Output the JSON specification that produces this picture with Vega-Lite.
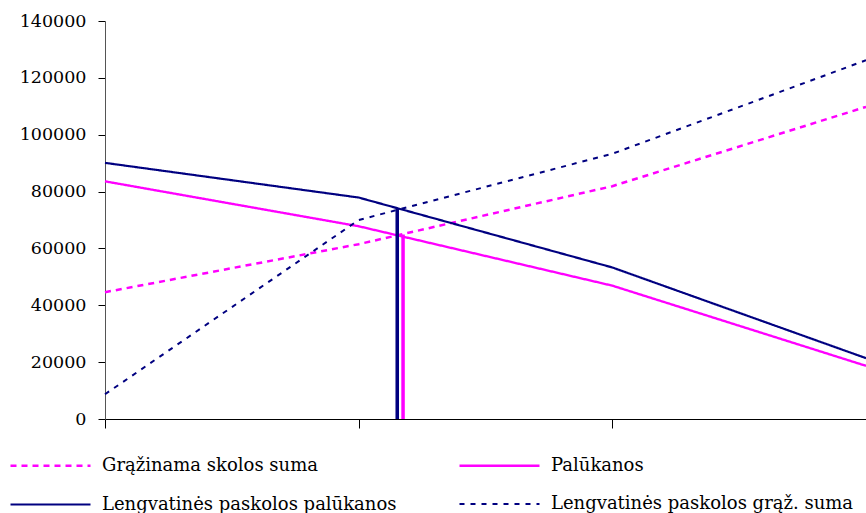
{
  "$schema": "https://vega.github.io/schema/vega-lite/v6.json",
  "autosize": "none",
  "padding": {"left": 105, "top": 21, "right": 0, "bottom": 94},
  "width": 761,
  "height": 398,
  "background": "white",
  "config": {
    "view": {"stroke": null},
    "font": "DejaVu Serif",
    "axis": {"grid": false, "domainColor": "black", "tickColor": "black", "labelFont": "DejaVu Serif", "labelColor": "black"},
    "legend": {"labelFont": "DejaVu Serif", "labelFontSize": 18, "labelColor": "black"}
  },
  "datasets": {
    "series": [
      {"x": 0, "value": 44600, "series": "Grąžinama skolos suma"},
      {"x": 1, "value": 61500, "series": "Grąžinama skolos suma"},
      {"x": 2, "value": 81900, "series": "Grąžinama skolos suma"},
      {"x": 3, "value": 109800, "series": "Grąžinama skolos suma"},
      {"x": 0, "value": 83600, "series": "Palūkanos"},
      {"x": 1, "value": 67800, "series": "Palūkanos"},
      {"x": 2, "value": 46900, "series": "Palūkanos"},
      {"x": 3, "value": 18700, "series": "Palūkanos"},
      {"x": 0, "value": 90100, "series": "Lengvatinės paskolos palūkanos"},
      {"x": 1, "value": 77900, "series": "Lengvatinės paskolos palūkanos"},
      {"x": 2, "value": 53300, "series": "Lengvatinės paskolos palūkanos"},
      {"x": 3, "value": 21400, "series": "Lengvatinės paskolos palūkanos"},
      {"x": 0, "value": 8700, "series": "Lengvatinės paskolos grąž. suma"},
      {"x": 1, "value": 70000, "series": "Lengvatinės paskolos grąž. suma"},
      {"x": 2, "value": 93300, "series": "Lengvatinės paskolos grąž. suma"},
      {"x": 3, "value": 126200, "series": "Lengvatinės paskolos grąž. suma"}
    ],
    "rules": [
      {"x": 1.152, "bottom": 0, "top": 74000, "series": "Lengvatinės paskolos palūkanos"},
      {"x": 1.175, "bottom": 0, "top": 64900, "series": "Palūkanos"}
    ]
  },
  "layer": [
    {
      "data": {"name": "series"},
      "mark": {"type": "line", "clip": false},
      "encoding": {
        "x": {
          "field": "x", "type": "quantitative",
          "scale": {"domain": [0, 3], "nice": false, "zero": false},
          "axis": {"title": null, "values": [0, 1, 2, 3], "labels": false, "tickSize": 9, "domainWidth": 1, "tickWidth": 1}
        },
        "y": {
          "field": "value", "type": "quantitative",
          "scale": {"domain": [0, 140000], "nice": false},
          "axis": {"title": null, "values": [0, 20000, 40000, 60000, 80000, 100000, 120000, 140000], "format": "d", "tickSize": 7, "labelPadding": 12, "labelFontSize": 17.5, "domainColor": "#555555", "labelFlush": false}
        },
        "color": {
          "field": "series", "type": "nominal",
          "scale": {
            "domain": ["Grąžinama skolos suma", "Palūkanos", "Lengvatinės paskolos palūkanos", "Lengvatinės paskolos grąž. suma"],
            "range": ["#FF00FF", "#FF00FF", "#000080", "#000080"]
          },
          "legend": {
            "title": null, "orient": "none", "legendX": -66, "legendY": 433,
            "direction": "horizontal", "columns": 2, "columnPadding": 57, "rowPadding": 18,
            "symbolType": "M-4,0H4", "symbolSize": 400,
            "labelFont": "DejaVu Serif", "labelFontSize": 18, "labelOffset": 40, "labelLimit": 500, "labelColor": "black"
          }
        },
        "strokeDash": {
          "field": "series", "type": "nominal",
          "scale": {
            "domain": ["Grąžinama skolos suma", "Palūkanos", "Lengvatinės paskolos palūkanos", "Lengvatinės paskolos grąž. suma"],
            "range": [[6, 5], [1, 0], [1, 0], [5, 6]]
          }
        },
        "strokeWidth": {
          "field": "series", "type": "nominal",
          "scale": {
            "domain": ["Grąžinama skolos suma", "Palūkanos", "Lengvatinės paskolos palūkanos", "Lengvatinės paskolos grąž. suma"],
            "range": [2.5, 2, 2, 2.5]
          }
        }
      }
    },
    {
      "data": {"name": "rules"},
      "mark": {"type": "rule", "strokeWidth": 3.5},
      "encoding": {
        "x": {"field": "x", "type": "quantitative"},
        "y": {"field": "top", "type": "quantitative"},
        "y2": {"field": "bottom"},
        "color": {"field": "series", "type": "nominal"}
      }
    }
  ]
}
